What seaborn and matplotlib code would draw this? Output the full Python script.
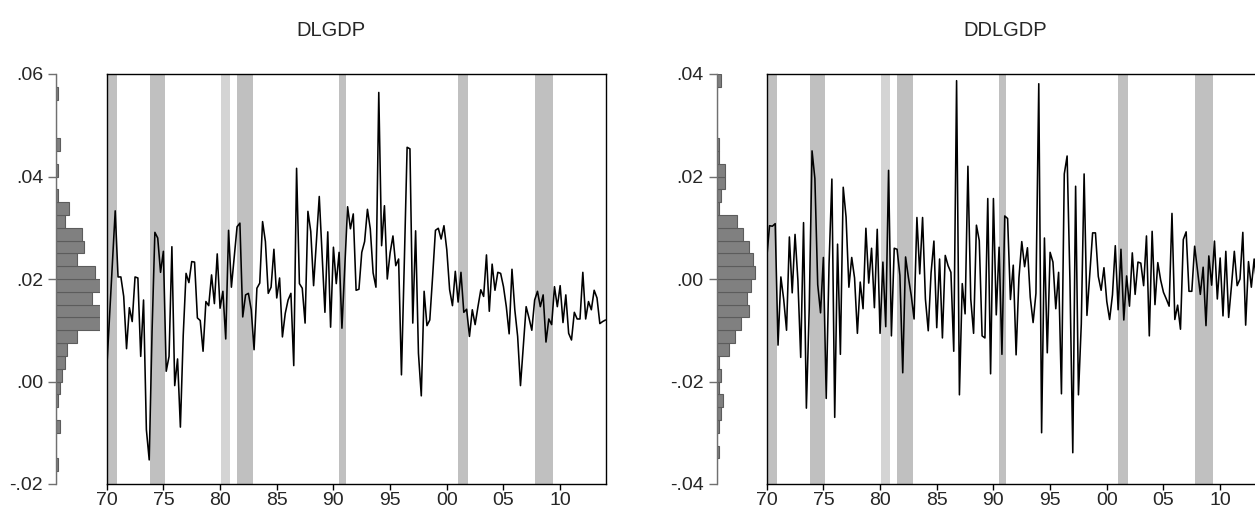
import numpy as np
import pandas as pd
import matplotlib
matplotlib.use("Agg")
import matplotlib.pyplot as plt
import seaborn as sns

# Quarterly GDP growth (log difference) and its first difference, 1970Q1-2014Q1
first_year = 1970
dlgdp = [
    0.0023, 0.0127, 0.0230, 0.0333, 0.0204, 0.0204, 0.0166, 0.0064, 0.0144, 0.0117,
    0.0204, 0.0202, 0.0049, 0.0159, -0.0094, -0.0153, 0.0097, 0.0291, 0.0280, 0.0213,
    0.0254, 0.0020, 0.0049, 0.0263, -0.0008, 0.0044, -0.0089, 0.0090, 0.0211, 0.0193,
    0.0234, 0.0233, 0.0124, 0.0119, 0.0059, 0.0156, 0.0148, 0.0208, 0.0152, 0.0249,
    0.0143, 0.0176, 0.0083, 0.0295, 0.0184, 0.0244, 0.0302, 0.0309, 0.0126, 0.0169,
    0.0172, 0.0140, 0.0062, 0.0182, 0.0192, 0.0312, 0.0273, 0.0172, 0.0184, 0.0258,
    0.0163, 0.0202, 0.0087, 0.0133, 0.0159, 0.0172, 0.0031, 0.0416, 0.0191, 0.0182,
    0.0114, 0.0332, 0.0293, 0.0187, 0.0274, 0.0361, 0.0250, 0.0135, 0.0292, 0.0106,
    0.0262, 0.0191, 0.0252, 0.0104, 0.0224, 0.0341, 0.0298, 0.0327, 0.0178, 0.0180,
    0.0252, 0.0273, 0.0336, 0.0298, 0.0212, 0.0184, 0.0564, 0.0265, 0.0343, 0.0200,
    0.0251, 0.0284, 0.0226, 0.0239, 0.0013, 0.0230, 0.0457, 0.0454, 0.0114, 0.0294,
    0.0055, -0.0028, 0.0176, 0.0109, 0.0120, 0.0205, 0.0295, 0.0299, 0.0278, 0.0304,
    0.0257, 0.0179, 0.0148, 0.0215, 0.0155, 0.0213, 0.0135, 0.0141, 0.0088, 0.0140,
    0.0111, 0.0146, 0.0179, 0.0166, 0.0247, 0.0137, 0.0229, 0.0178, 0.0213, 0.0211,
    0.0185, 0.0146, 0.0093, 0.0219, 0.0140, 0.0088, -0.0008, 0.0068, 0.0146, 0.0124,
    0.0100, 0.0159, 0.0176, 0.0146, 0.0169, 0.0077, 0.0122, 0.0111, 0.0185, 0.0146,
    0.0187, 0.0115, 0.0169, 0.0094, 0.0081, 0.0135, 0.0122, 0.0122, 0.0213, 0.0122,
    0.0156, 0.0140, 0.0178, 0.0163, 0.0113, 0.0117, 0.0120,
]
ddlgdp = [
    0.0040, 0.0104, 0.0103, 0.0108, -0.0129, 0.0004, -0.0040, -0.0100, 0.0082, -0.0027,
    0.0087, -0.0002, -0.0153, 0.0110, -0.0252, -0.0059, 0.0250, 0.0196, -0.0011, -0.0066,
    0.0042, -0.0233, 0.0029, 0.0195, -0.0270, 0.0068, -0.0147, 0.0179, 0.0121, -0.0016,
    0.0042, 0.0002, -0.0106, -0.0006, -0.0058, 0.0099, -0.0008, 0.0060, -0.0056, 0.0097,
    -0.0106, 0.0033, -0.0093, 0.0212, -0.0111, 0.0060, 0.0058, 0.0007, -0.0183, 0.0043,
    0.0003, -0.0032, -0.0078, 0.0120, 0.0010, 0.0120, -0.0039, -0.0101, 0.0012, 0.0074,
    -0.0095, 0.0039, -0.0115, 0.0046, 0.0026, 0.0013, -0.0141, 0.0387, -0.0226, -0.0009,
    -0.0068, 0.0220, -0.0039, -0.0106, 0.0105, 0.0075, -0.0111, -0.0115, 0.0157, -0.0185,
    0.0157, -0.0070, 0.0062, -0.0147, 0.0123, 0.0118, -0.0040, 0.0027, -0.0148, 0.0002,
    0.0073, 0.0024, 0.0061, -0.0036, -0.0085, -0.0028, 0.0381, -0.0300, 0.0080, -0.0144,
    0.0052, 0.0033, -0.0058, 0.0013, -0.0224, 0.0205, 0.0240, -0.0003, -0.0339, 0.0181,
    -0.0226, -0.0088, 0.0205, -0.0071, 0.0011, 0.0090, 0.0090, 0.0005, -0.0022, 0.0022,
    -0.0044, -0.0079, -0.0031, 0.0065, -0.0060, 0.0058, -0.0080, 0.0006, -0.0053, 0.0051,
    -0.0030, 0.0033, 0.0031, -0.0013, 0.0084, -0.0111, 0.0093, -0.0050, 0.0032, -0.0002,
    -0.0026, -0.0039, -0.0053, 0.0128, -0.0079, -0.0051, -0.0098, 0.0077, 0.0092, -0.0024,
    -0.0024, 0.0064, 0.0017, -0.0030, 0.0023, -0.0091, 0.0045, -0.0012, 0.0074, -0.0039,
    0.0041, -0.0072, 0.0054, -0.0075, -0.0013, 0.0054, -0.0013, 0.0000, 0.0091, -0.0090,
    0.0034, -0.0016, 0.0039, -0.0015, -0.0050, 0.0004, 0.0003,
]

# NBER recession periods as fractional years
recession_start = [1969.92, 1973.80, 1980.05, 1981.53, 1990.53, 2001.03, 2007.80]
recession_end = [1970.875, 1975.15, 1980.90, 1982.90, 1991.15, 2001.90, 2009.40]

year_ticks = [1970, 1975, 1980, 1985, 1990, 1995, 2000, 2005, 2010]
year_labels = ["70", "75", "80", "85", "90", "95", "00", "05", "10"]

left_yticks = [-0.02, 0.00, 0.02, 0.04, 0.06]
left_ylabels = ["-.02", ".00", ".02", ".04", ".06"]
right_yticks = [-0.04, -0.02, 0.00, 0.02, 0.04]
right_ylabels = ["-.04", "-.02", ".00", ".02", ".04"]

titles = ["DLGDP", "DDLGDP"]

sns.set_style("white")
plt.rcParams["font.family"] = ["Liberation Sans", "DejaVu Sans"]
FS = 14

W, H = 1255, 516
fig = plt.figure(figsize=(W / 100, H / 100), dpi=100)

quarters = pd.period_range(f"{first_year}Q1", periods=len(dlgdp), freq="Q")
t = first_year + np.arange(len(dlgdp)) / 4.0
df = pd.DataFrame({"t": t, "DLGDP": dlgdp, "DDLGDP": ddlgdp[: len(dlgdp)]},
                  index=quarters)


def px_rect(x0, x1, y0=74, y1=484):
    return [x0 / W, 1 - y1 / H, (x1 - x0) / W, (y1 - y0) / H]


def draw_panel(col, hist_px, line_px, ylim, yticks, ylabels, binrange,
               hist_xmax, title, title_x):
    hax = fig.add_axes(px_rect(*hist_px))
    lax = fig.add_axes(px_rect(*line_px))

    # marginal distribution on the left
    sns.histplot(data=df, y=col, binwidth=0.0025, binrange=binrange, ax=hax,
                 color="#808080", edgecolor="#5c5c5c", linewidth=0.8, alpha=1.0)
    hax.set_ylim(*ylim)
    hax.set_xlim(0, hist_xmax)
    for s in ["top", "right", "bottom"]:
        hax.spines[s].set_visible(False)
    hax.spines["left"].set_color("#707070")
    hax.spines["left"].set_linewidth(1.0)
    hax.set_xticks([])
    hax.set_yticks(yticks)
    hax.set_yticklabels(ylabels, fontsize=FS)
    hax.tick_params(axis="y", direction="out", length=5.8, width=1.0,
                    color="#707070", pad=3.5, left=True)
    hax.set_xlabel("")
    hax.set_ylabel("")
    hax.grid(False)

    # time series with recession shading
    for k, (a, b) in enumerate(zip(recession_start, recession_end)):
        shade = "#d4d4d4" if k == 2 else "#c0c0c0"
        lax.axvspan(a, b, color=shade, lw=0, zorder=0)
    sns.lineplot(data=df, x="t", y=col, ax=lax, color="black", linewidth=1.15,
                 estimator=None, zorder=3)
    lax.set_xlim(first_year, first_year + (len(dlgdp) - 1) / 4.0)
    lax.set_ylim(*ylim)
    lax.set_yticks([])
    lax.set_xticks(year_ticks)
    lax.set_xticklabels(year_labels, fontsize=FS)
    lax.tick_params(axis="x", direction="out", length=4.3, width=1.0,
                    color="black", pad=1.5, bottom=True)
    for s in lax.spines.values():
        s.set_color("black")
        s.set_linewidth(1.0)
    lax.set_xlabel("")
    lax.set_ylabel("")
    lax.grid(False)

    fig.text(title_x / W, 1 - 31 / H, title, ha="center", va="center",
             fontsize=FS + 0.5)


draw_panel("DLGDP", (56, 100), (106.7, 605.5), (-0.02, 0.06), left_yticks,
           left_ylabels, (-0.02, 0.06), 20.5, titles[0], 331)
draw_panel("DDLGDP", (716.7, 760), (766.7, 1265.5), (-0.04, 0.04), right_yticks,
           right_ylabels, (-0.04, 0.04), 21.5, titles[1], 1005)

fig.savefig("out.png", dpi=100)
